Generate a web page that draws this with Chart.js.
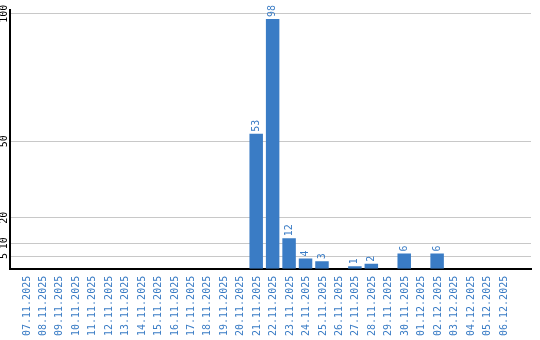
<!DOCTYPE html>
<html>
<head>
<meta charset="utf-8">
<script src="https://cdn.jsdelivr.net/npm/chart.js@4/dist/chart.umd.min.js"></script>
<style>
html,body{margin:0;padding:0;background:#fff;}
canvas{display:block;}
</style>
</head>
<body>
<canvas id="c" width="540" height="340"></canvas>
<script>
const dates = ["07.11.2025","08.11.2025","09.11.2025","10.11.2025","11.11.2025","12.11.2025","13.11.2025","14.11.2025","15.11.2025","16.11.2025","17.11.2025","18.11.2025","19.11.2025","20.11.2025","21.11.2025","22.11.2025","23.11.2025","24.11.2025","25.11.2025","26.11.2025","27.11.2025","28.11.2025","29.11.2025","30.11.2025","01.12.2025","02.12.2025","03.12.2025","04.12.2025","05.12.2025","06.12.2025"];
const counts = [0,0,0,0,0,0,0,0,0,0,0,0,0,0,53,98,12,4,3,0,1,2,0,6,0,6,0,0,0,0];
const yTicks = [5,10,20,50,100];

const BLUE = '#3a7cc5';
const FONT = '10px "DejaVu Sans Mono", monospace';

const labelPlugin = {
  id: 'labels',
  afterDatasetsDraw(chart) {
    const ctx = chart.ctx;
    const meta = chart.getDatasetMeta(0);
    ctx.save();
    ctx.font = FONT;
    ctx.fillStyle = BLUE;
    ctx.textAlign = 'left';
    ctx.textBaseline = 'middle';
    meta.data.forEach((bar, i) => {
      const v = counts[i];
      if (!v) return;
      ctx.save();
      ctx.translate(bar.x, bar.y - 2);
      ctx.rotate(-Math.PI / 2);
      ctx.fillText(String(v), 0, 0);
      ctx.restore();
    });
    ctx.restore();
  },
  afterDraw(chart) {
    const ctx = chart.ctx;
    const ys = chart.scales.y;
    ctx.save();
    ctx.font = FONT;
    ctx.fillStyle = '#000';
    ctx.textAlign = 'center';
    ctx.textBaseline = 'middle';
    yTicks.forEach(v => {
      ctx.save();
      ctx.translate(4.5, ys.getPixelForValue(v));
      ctx.rotate(-Math.PI / 2);
      ctx.fillText(String(v), 0, 0);
      ctx.restore();
    });
    ctx.restore();
  }
};

new Chart(document.getElementById('c'), {
  type: 'bar',
  data: {
    datasets: [{
      data: counts.map((v, i) => ({x: i, y: v})),
      backgroundColor: BLUE,
      borderWidth: 0,
      barPercentage: 0.82,
      categoryPercentage: 1
    }]
  },
  options: {
    responsive: false,
    animation: false,
    layout: {padding: {top: 10, left: 10, right: 9, bottom: -3}},
    plugins: {legend: {display: false}, tooltip: {enabled: false}},
    scales: {
      x: {
        type: 'linear',
        min: -0.44,
        max: 30.18,
        grid: {display: false, drawTicks: false},
        border: {display: true, color: '#000', width: 2},
        afterBuildTicks: (s) => { s.ticks = dates.map((_, i) => ({value: i})); },
        ticks: {
          autoSkip: false,
          minRotation: 90,
          maxRotation: 90,
          padding: 7,
          labelOffset: 1,
          color: BLUE,
          font: {family: '"DejaVu Sans Mono", monospace', size: 10},
          callback: (v) => dates[v]
        }
      },
      y: {
        min: 0,
        max: 101.5,
        grid: {color: '#c8c8c8', lineWidth: 1, drawTicks: false},
        border: {display: true, color: '#000', width: 2},
        afterBuildTicks: (s) => { s.ticks = yTicks.map(v => ({value: v})); },
        ticks: {display: false}
      }
    }
  },
  plugins: [labelPlugin]
});
</script>
</body>
</html>
